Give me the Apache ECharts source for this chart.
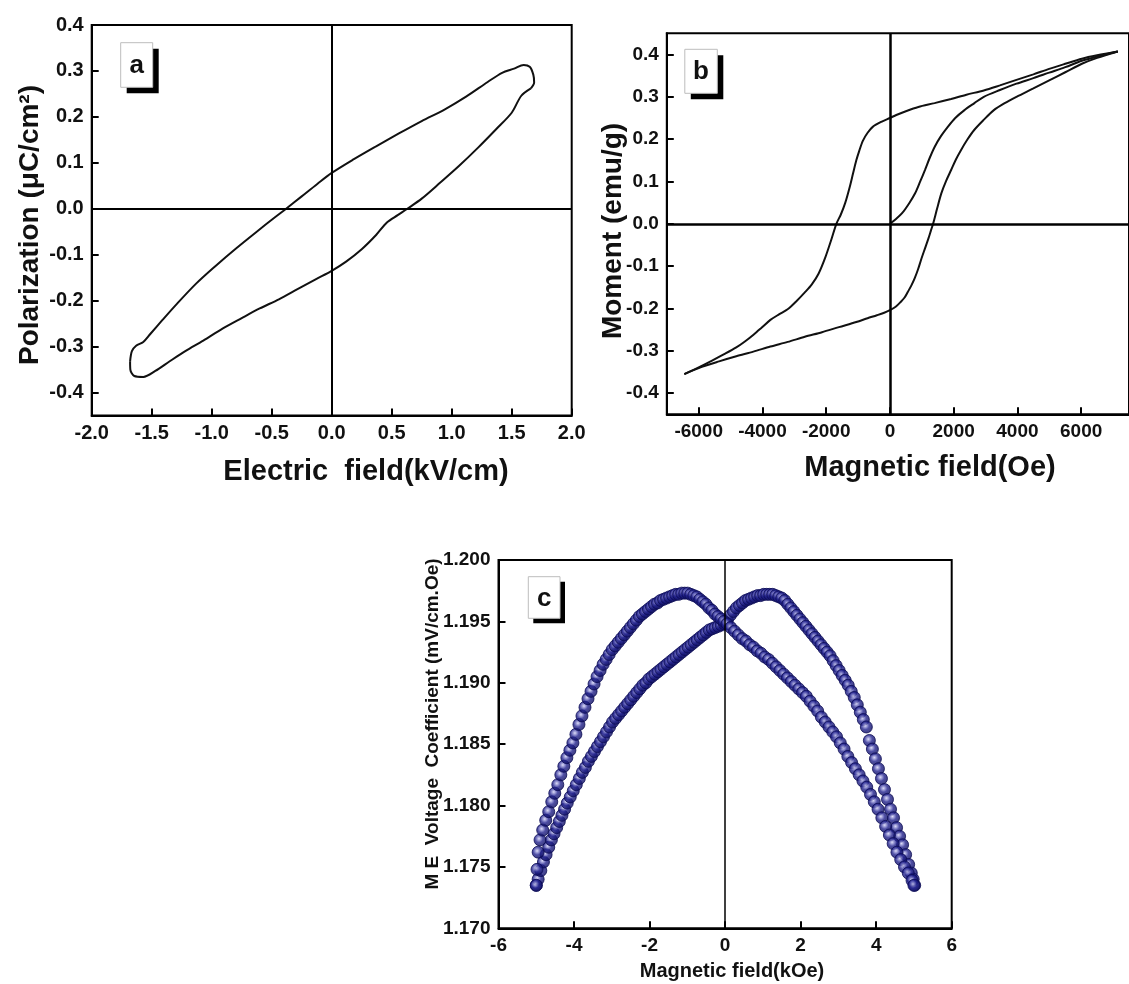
<!DOCTYPE html>
<html>
<head>
<meta charset="utf-8">
<title>P-E loop, M-H loop and ME coefficient</title>
<script src="https://cdn.jsdelivr.net/npm/echarts@6/dist/echarts.min.js"></script>
<style>
html,body{margin:0;padding:0;background:#fff;}
#main{width:1129px;height:984px;}
</style>
</head>
<body>
<div id="main"></div>
<script>
// (a) P-E loop, [E kV/cm, P uC/cm2]
var peUpper = [[-1.68,-0.332],[-1.665,-0.310],[-1.63,-0.298],[-1.57,-0.290],[-1.51,-0.272],[-1.41,-0.242],[-1.29,-0.207],[-1.13,-0.163],[-0.97,-0.125],[-0.80,-0.087],[-0.63,-0.051],[-0.47,-0.018],[-0.38,0.0],[-0.25,0.027],[-0.12,0.054],[0,0.078],[0.185,0.108],[0.37,0.136],[0.56,0.164],[0.75,0.191],[0.94,0.216],[1.12,0.244],[1.30,0.276],[1.42,0.296],[1.52,0.305],[1.60,0.313],[1.65,0.309],[1.68,0.292],[1.687,0.275],[1.66,0.262]];
var peLower = [[1.66,0.262],[1.58,0.246],[1.50,0.209],[1.37,0.173],[1.22,0.133],[1.06,0.093],[0.905,0.057],[0.75,0.022],[0.63,0.0],[0.55,-0.014],[0.46,-0.030],[0.37,-0.057],[0.25,-0.088],[0.12,-0.115],[0,-0.135],[-0.13,-0.153],[-0.285,-0.175],[-0.44,-0.197],[-0.60,-0.217],[-0.75,-0.238],[-0.91,-0.261],[-1.07,-0.287],[-1.22,-0.310],[-1.35,-0.332],[-1.47,-0.353],[-1.57,-0.366],[-1.645,-0.364],[-1.678,-0.350],[-1.68,-0.332]];

// (b) M-H loop, [H Oe, M emu/g]
var mhInitial = [[0,0],[200,0.012],[381,0.025],[600,0.048],[790,0.072],[950,0.100],[1098,0.127],[1250,0.156],[1406,0.182],[1600,0.207],[1815,0.229],[2050,0.250],[2329,0.268],[2650,0.285],[2945,0.300],[3450,0.316],[3970,0.331],[4500,0.344],[4996,0.357],[5500,0.370],[6021,0.385],[6500,0.395],[7150,0.407]];
var mhUpper = [[7150,0.407],[6500,0.398],[6021,0.390],[5500,0.378],[4996,0.366],[4500,0.353],[3970,0.340],[3450,0.327],[2945,0.315],[2400,0.305],[1920,0.295],[1400,0.285],[892,0.276],[500,0.266],[200,0.257],[0,0.250],[-270,0.241],[-540,0.229],[-700,0.215],[-850,0.196],[-960,0.173],[-1055,0.150],[-1160,0.118],[-1261,0.087],[-1400,0.050],[-1540,0.022],[-1680,0],[-1850,-0.040],[-2030,-0.080],[-2240,-0.118],[-2450,-0.143],[-2670,-0.162],[-2950,-0.184],[-3210,-0.202],[-3480,-0.214],[-3750,-0.227],[-4020,-0.245],[-4280,-0.262],[-4550,-0.278],[-4820,-0.292],[-5200,-0.308],[-5580,-0.323],[-6000,-0.339],[-6450,-0.355]];
var mhLower = [[-6450,-0.355],[-5900,-0.338],[-5361,-0.325],[-4820,-0.313],[-4284,-0.302],[-3750,-0.290],[-3208,-0.279],[-2670,-0.267],[-2131,-0.256],[-1600,-0.244],[-1055,-0.232],[-700,-0.223],[-409,-0.216],[-180,-0.210],[0,-0.204],[180,-0.196],[344,-0.184],[460,-0.174],[560,-0.161],[670,-0.146],[775,-0.129],[880,-0.108],[990,-0.082],[1100,-0.058],[1206,-0.035],[1290,-0.015],[1354,0],[1480,0.036],[1612,0.072],[1760,0.101],[1920,0.127],[2070,0.152],[2228,0.174],[2430,0.199],[2637,0.221],[2950,0.246],[3252,0.268],[3600,0.285],[3970,0.300],[4500,0.320],[4997,0.339],[5500,0.358],[6021,0.378],[6500,0.392],[7150,0.407]];

// (c) ME voltage coefficient, [H kOe, alpha mV/cm.Oe]
var meForward = [[-5.00,1.1735],[-4.98,1.1748],[-4.95,1.1762],[-4.90,1.1772],[-4.83,1.1780],[-4.75,1.1788],[-4.67,1.1795],[-4.59,1.1803],[-4.51,1.1810],[-4.43,1.1817],[-4.35,1.1825],[-4.27,1.1832],[-4.19,1.1839],[-4.11,1.1845],[-4.03,1.1851],[-3.95,1.1858],[-3.87,1.1866],[-3.79,1.1873],[-3.71,1.1880],[-3.63,1.1887],[-3.55,1.1893],[-3.47,1.1899],[-3.39,1.1905],[-3.31,1.1910],[-3.23,1.1915],[-3.15,1.1919],[-3.07,1.1923],[-2.99,1.1927],[-2.91,1.1930],[-2.83,1.1933],[-2.75,1.1936],[-2.67,1.1939],[-2.59,1.1942],[-2.51,1.1945],[-2.43,1.1948],[-2.35,1.1951],[-2.27,1.1954],[-2.19,1.1956],[-2.11,1.1958],[-2.03,1.1960],[-1.95,1.1962],[-1.87,1.1964],[-1.79,1.1965],[-1.71,1.1967],[-1.63,1.1968],[-1.55,1.1969],[-1.47,1.1970],[-1.39,1.1971],[-1.31,1.1972],[-1.23,1.1972],[-1.15,1.1973],[-1.07,1.1973],[-0.99,1.1973],[-0.91,1.1972],[-0.83,1.1971],[-0.75,1.1970],[-0.67,1.1968],[-0.59,1.1966],[-0.51,1.1964],[-0.43,1.1961],[-0.35,1.1959],[-0.27,1.1956],[-0.19,1.1954],[-0.11,1.1952],[-0.03,1.1950],[0.05,1.1948],[0.15,1.1945],[0.25,1.1942],[0.35,1.1939],[0.45,1.1936],[0.55,1.1934],[0.65,1.1931],[0.75,1.1929],[0.85,1.1926],[0.95,1.1924],[1.05,1.1921],[1.15,1.1919],[1.25,1.1916],[1.35,1.1913],[1.45,1.1910],[1.55,1.1907],[1.65,1.1904],[1.75,1.1901],[1.85,1.1898],[1.95,1.1895],[2.05,1.1892],[2.15,1.1889],[2.25,1.1885],[2.35,1.1881],[2.45,1.1877],[2.55,1.1872],[2.65,1.1868],[2.75,1.1864],[2.85,1.1860],[2.95,1.1856],[3.05,1.1851],[3.15,1.1846],[3.25,1.1840],[3.35,1.1835],[3.45,1.1830],[3.55,1.1825],[3.65,1.1820],[3.75,1.1815],[3.85,1.1809],[3.95,1.1803],[4.05,1.1797],[4.15,1.1790],[4.25,1.1783],[4.35,1.1776],[4.45,1.1769],[4.55,1.1762],[4.65,1.1756],[4.75,1.1750],[4.85,1.1745],[4.95,1.1739],[5.00,1.1735]];
var meReverse = [[-5.00,1.1735],[-4.95,1.1740],[-4.88,1.1747],[-4.81,1.1754],[-4.74,1.1760],[-4.67,1.1766],[-4.60,1.1772],[-4.53,1.1777],[-4.46,1.1782],[-4.39,1.1787],[-4.32,1.1792],[-4.25,1.1797],[-4.18,1.1802],[-4.10,1.1807],[-4.02,1.1812],[-3.94,1.1817],[-3.86,1.1822],[-3.78,1.1827],[-3.70,1.1831],[-3.62,1.1836],[-3.54,1.1840],[-3.46,1.1844],[-3.38,1.1848],[-3.30,1.1852],[-3.22,1.1856],[-3.14,1.1860],[-3.06,1.1864],[-2.98,1.1868],[-2.90,1.1871],[-2.82,1.1874],[-2.74,1.1877],[-2.66,1.1880],[-2.58,1.1883],[-2.50,1.1886],[-2.42,1.1889],[-2.34,1.1892],[-2.26,1.1895],[-2.18,1.1898],[-2.10,1.1900],[-2.02,1.1903],[-1.94,1.1905],[-1.86,1.1907],[-1.78,1.1909],[-1.70,1.1911],[-1.62,1.1913],[-1.54,1.1915],[-1.46,1.1917],[-1.38,1.1919],[-1.30,1.1921],[-1.22,1.1923],[-1.14,1.1925],[-1.06,1.1927],[-0.98,1.1929],[-0.90,1.1931],[-0.82,1.1933],[-0.74,1.1935],[-0.66,1.1937],[-0.58,1.1939],[-0.50,1.1941],[-0.42,1.1943],[-0.34,1.1944],[-0.26,1.1945],[-0.18,1.1946],[-0.10,1.1947],[-0.02,1.1948],[0.06,1.1951],[0.14,1.1955],[0.22,1.1958],[0.30,1.1961],[0.38,1.1963],[0.46,1.1965],[0.54,1.1967],[0.62,1.1968],[0.70,1.1969],[0.78,1.1970],[0.86,1.1971],[0.94,1.1971],[1.02,1.1972],[1.10,1.1972],[1.18,1.1972],[1.26,1.1972],[1.34,1.1971],[1.42,1.1970],[1.50,1.1969],[1.58,1.1967],[1.66,1.1964],[1.74,1.1961],[1.82,1.1958],[1.90,1.1955],[1.98,1.1952],[2.06,1.1949],[2.14,1.1946],[2.22,1.1943],[2.30,1.1940],[2.38,1.1937],[2.46,1.1934],[2.54,1.1931],[2.62,1.1928],[2.70,1.1925],[2.78,1.1922],[2.86,1.1918],[2.94,1.1914],[3.02,1.1910],[3.10,1.1906],[3.18,1.1902],[3.26,1.1898],[3.34,1.1893],[3.42,1.1888],[3.50,1.1882],[3.58,1.1876],[3.66,1.1870],[3.74,1.1864],[3.82,1.1853],[3.90,1.1846],[3.98,1.1838],[4.06,1.1830],[4.14,1.1822],[4.22,1.1813],[4.30,1.1805],[4.38,1.1797],[4.46,1.1790],[4.54,1.1782],[4.62,1.1775],[4.70,1.1768],[4.78,1.1760],[4.86,1.1752],[4.93,1.1745],[4.98,1.1740],[5.02,1.1735]];

// tick labels
var aXTicks = [-2.0,-1.5,-1.0,-0.5,0.0,0.5,1.0,1.5,2.0];
var aYTicks = [-0.4,-0.3,-0.2,-0.1,0.0,0.1,0.2,0.3,0.4];
var bXTicks = [-6000,-4000,-2000,0,2000,4000,6000];
var bYTicks = [-0.4,-0.3,-0.2,-0.1,0.0,0.1,0.2,0.3,0.4];
var cXTicks = [-6,-4,-2,0,2,4,6];
var cYTicks = [1.170,1.175,1.180,1.185,1.190,1.195,1.200];

var FONT = "'Liberation Sans', Arial, Helvetica, sans-serif";

function valAxis(gi, min, max, ticks, digits, size) {
    return {
        type: 'value', gridIndex: gi, min: min, max: max,
        axisLine: {show: true, onZero: false, lineStyle: {color: '#000', width: 2}},
        axisTick: {show: true, inside: true, length: 7, customValues: ticks, lineStyle: {color: '#000', width: 2}},
        axisLabel: {
            customValues: ticks, margin: 8, color: '#111',
            fontSize: size, fontWeight: 'bold', fontFamily: FONT,
            formatter: function (v) { return v.toFixed(digits); }
        },
        splitLine: {show: false}
    };
}

function zeroLines(list, width) {
    return {
        silent: true, symbol: ['none', 'none'], animation: false,
        label: {show: false},
        lineStyle: {color: '#000', width: width, type: 'solid'},
        emphasis: {disabled: true},
        data: list
    };
}

function tag(x, y, w, h, off, letter) {
    return {
        type: 'group', x: x, y: y,
        children: [
            {type: 'rect', shape: {x: off, y: off, width: w, height: h}, style: {fill: '#000'}},
            {type: 'rect', shape: {x: 0, y: 0, width: w, height: h}, style: {fill: '#fff', stroke: '#bdbdbd', lineWidth: 1}},
            {type: 'text', x: w / 2, y: h / 2 + 1, style: {text: letter, font: 'bold 26px ' + FONT, fill: '#111', textAlign: 'center', textVerticalAlign: 'middle'}}
        ]
    };
}

function title(x, y, text, size, rotated) {
    return {
        type: 'text', x: x, y: y, rotation: rotated ? Math.PI / 2 : 0,
        style: {text: text, font: 'bold ' + size + 'px ' + FONT, fill: '#111', textAlign: 'center', textVerticalAlign: 'middle'}
    };
}

// shaded navy balls for panel c
var ball = {
    color: {
        type: 'radial', x: 0.42, y: 0.4, r: 0.6,
        colorStops: [
            {offset: 0, color: '#d4d4f4'},
            {offset: 0.22, color: '#8484cc'},
            {offset: 0.5, color: '#22228e'},
            {offset: 1, color: '#0d0d5c'}
        ]
    },
    borderColor: '#0b0b55',
    borderWidth: 1
};

var blackLine = {color: '#111', width: 2};

var option = {
    animation: false,
    backgroundColor: '#fff',
    grid: [
        {left: 91.7, top: 25, width: 480, height: 390.5, show: true, borderColor: '#000', borderWidth: 2},
        {left: 666.8, top: 33.3, width: 471.2, height: 381, show: true, borderColor: '#000', borderWidth: 2},
        {left: 498.5, top: 560, width: 453.2, height: 368.3, show: true, borderColor: '#000', borderWidth: 2}
    ],
    xAxis: [
        valAxis(0, -2, 2, aXTicks, 1, 20),
        valAxis(1, -7000, 7500, bXTicks, 0, 19),
        valAxis(2, -6, 6, cXTicks, 0, 19)
    ],
    yAxis: [
        valAxis(0, -0.45, 0.4, aYTicks, 1, 20),
        valAxis(1, -0.45, 0.45, bYTicks, 1, 19),
        valAxis(2, 1.170, 1.200, cYTicks, 3, 19)
    ],
    series: [
        {
            name: 'P-E rising', type: 'line', xAxisIndex: 0, yAxisIndex: 0,
            data: peUpper, showSymbol: false, smooth: 0.3, lineStyle: blackLine,
            markLine: zeroLines([{xAxis: 0}, {yAxis: 0}], 2)
        },
        {
            name: 'P-E falling', type: 'line', xAxisIndex: 0, yAxisIndex: 0,
            data: peLower, showSymbol: false, smooth: 0.3, lineStyle: blackLine
        },
        {
            name: 'initial', type: 'line', xAxisIndex: 1, yAxisIndex: 1,
            data: mhInitial, showSymbol: false, smooth: 0.3, lineStyle: blackLine,
            markLine: zeroLines([{xAxis: 0}, {yAxis: 0}], 2.5)
        },
        {
            name: 'descending', type: 'line', xAxisIndex: 1, yAxisIndex: 1,
            data: mhUpper, showSymbol: false, smooth: 0.3, lineStyle: blackLine
        },
        {
            name: 'ascending', type: 'line', xAxisIndex: 1, yAxisIndex: 1,
            data: mhLower, showSymbol: false, smooth: 0.3, lineStyle: blackLine
        },
        {
            name: 'reverse', type: 'scatter', xAxisIndex: 2, yAxisIndex: 2,
            data: meReverse, symbolSize: 12, itemStyle: ball,
            markLine: zeroLines([{xAxis: 0}], 1.5)
        },
        {
            name: 'forward', type: 'scatter', xAxisIndex: 2, yAxisIndex: 2,
            data: meForward, symbolSize: 12, itemStyle: ball
        }
    ],
    graphic: [
        tag(120.7, 42.7, 32, 44.6, 6, 'a'),
        tag(684.8, 49.3, 32.5, 44, 6, 'b'),
        tag(528.3, 576.7, 31.7, 41.6, 5, 'c'),
        title(366, 472, 'Electric  field(kV/cm)', 29, false),
        title(30, 225, 'Polarization (\u03bcC/cm\u00b2)', 28, true),
        title(930, 468, 'Magnetic field(Oe)', 29, false),
        title(613, 231, 'Moment (emu/g)', 28, true),
        title(732, 971, 'Magnetic field(kOe)', 20, false),
        title(433, 724, 'M E  Voltage  Coefficient (mV/cm.Oe)', 19, true)
    ]
};

var myChart = echarts.init(document.getElementById('main'));
myChart.setOption(option);
</script>
</body>
</html>
